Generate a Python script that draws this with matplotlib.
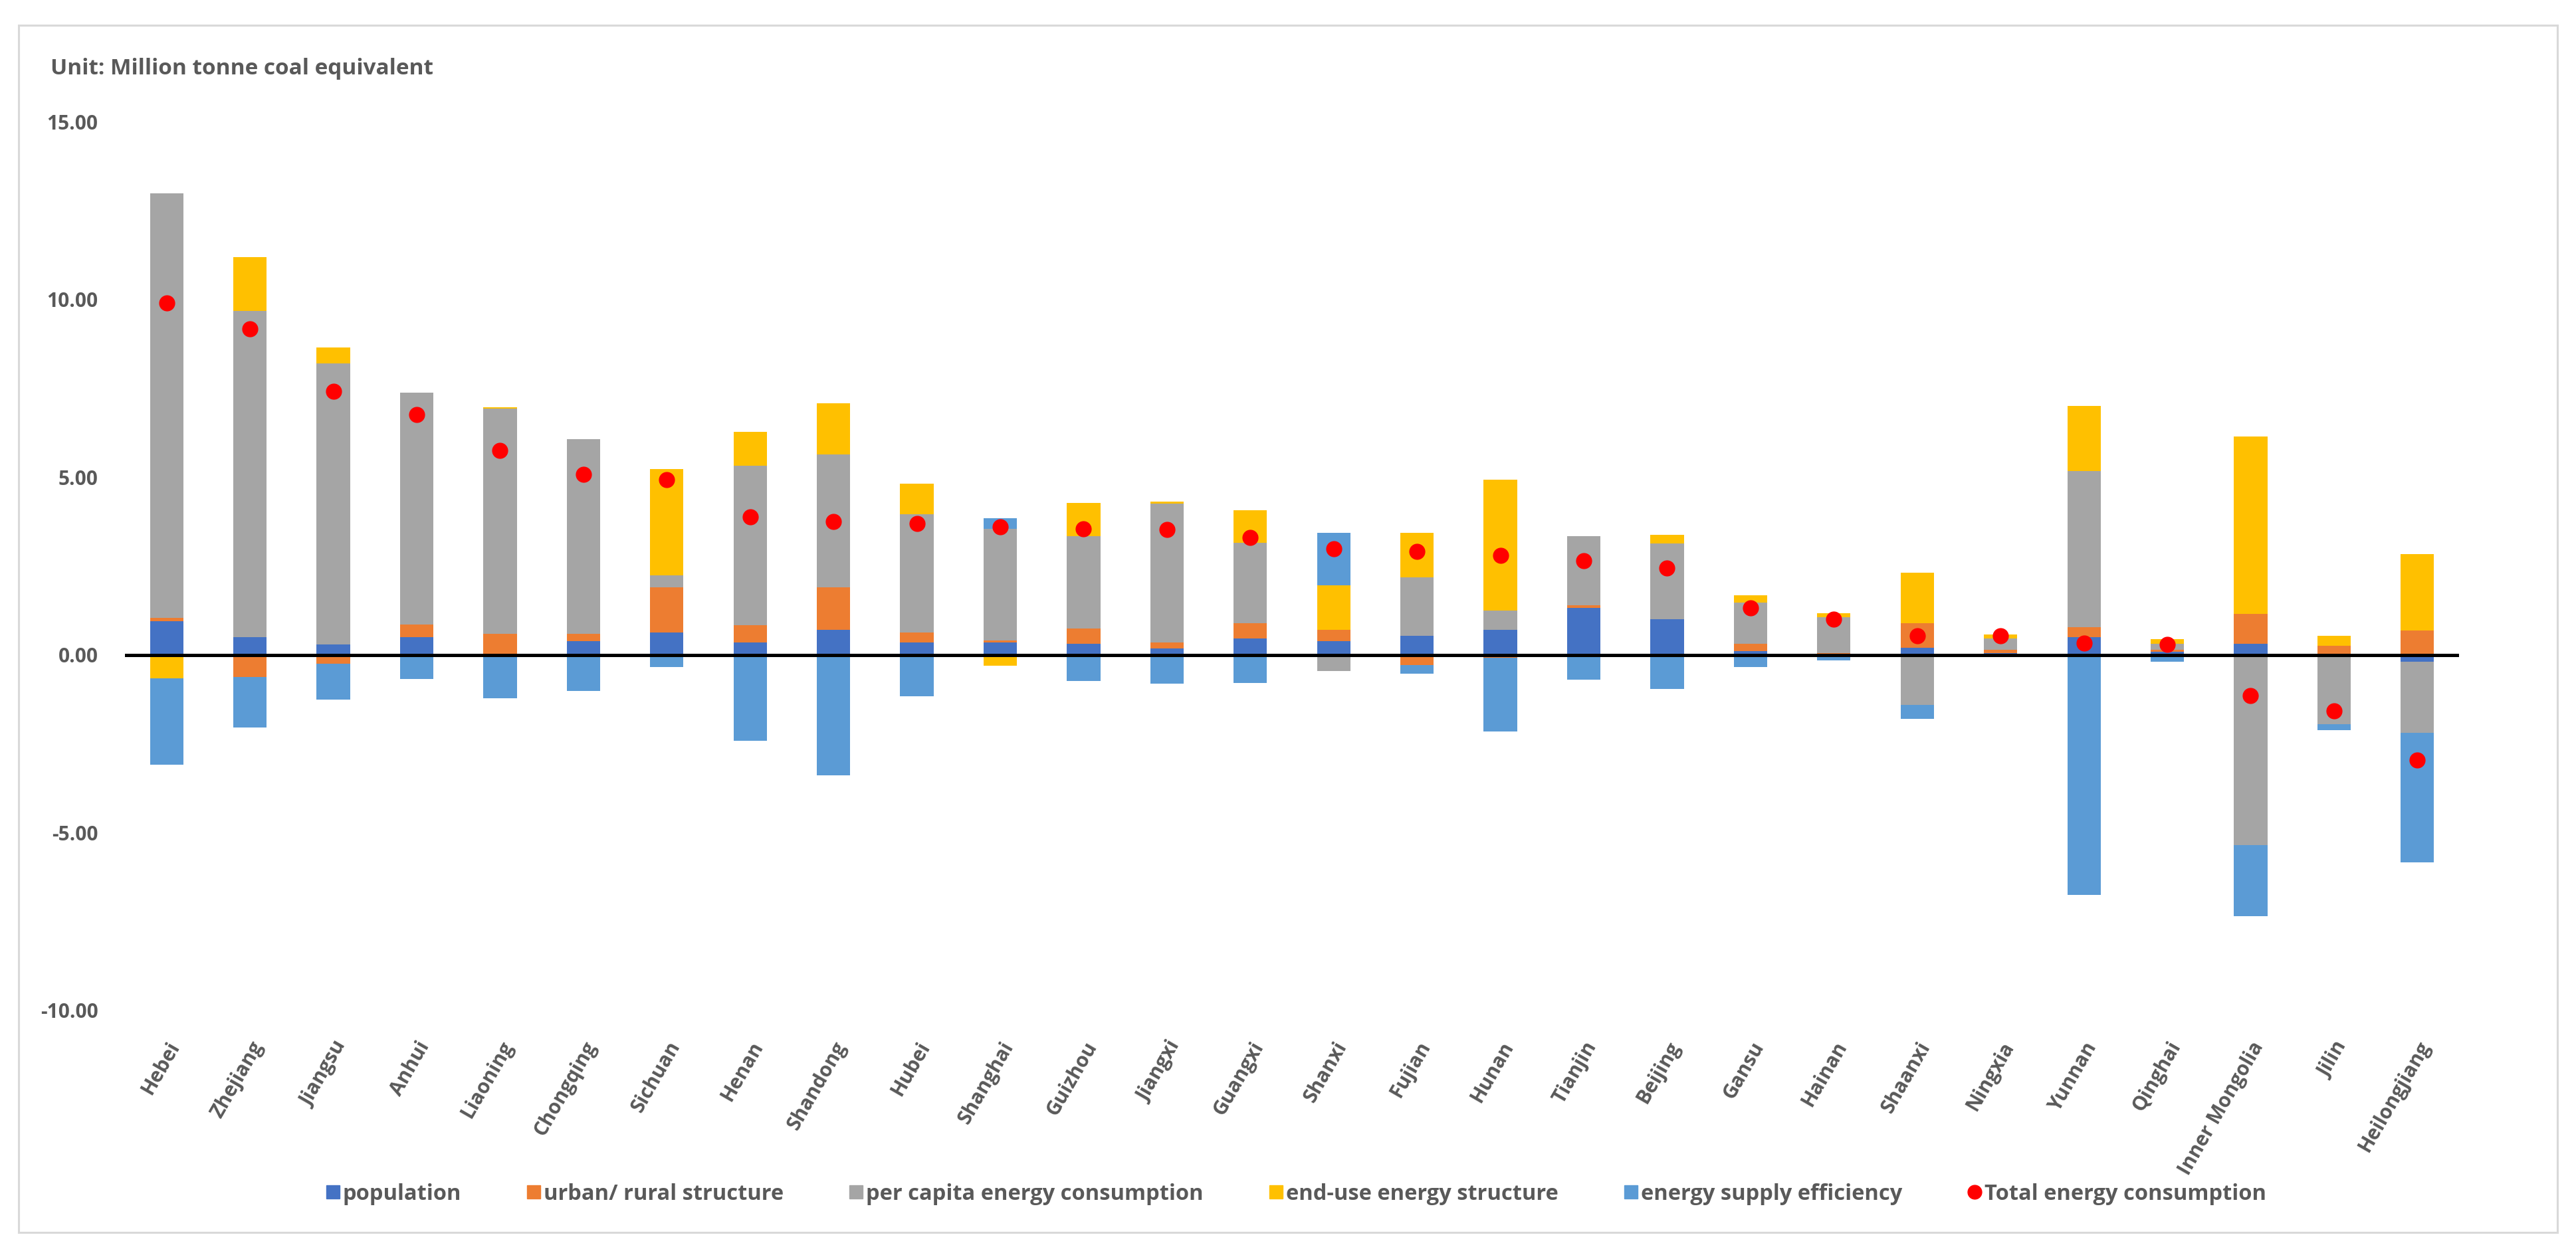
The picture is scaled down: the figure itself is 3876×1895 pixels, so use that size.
import matplotlib
matplotlib.use('Agg')
import matplotlib.pyplot as plt
import numpy as np
from matplotlib.patches import Rectangle
from matplotlib.lines import Line2D

plt.rcParams['font.family'] = ['Open Sans', 'DejaVu Sans']

# provincias (ordem do grafico)
provinces = ['Hebei', 'Zhejiang', 'Jiangsu', 'Anhui', 'Liaoning', 'Chongqing', 'Sichuan',
             'Henan', 'Shandong', 'Hubei', 'Shanghai', 'Guizhou', 'Jiangxi', 'Guangxi',
             'Shanxi', 'Fujian', 'Hunan', 'Tianjin', 'Beijing', 'Gansu', 'Hainan',
             'Shaanxi', 'Ningxia', 'Yunnan', 'Qinghai', 'Inner Mongolia', 'Jilin',
             'Heilongjiang']

population = [0.95, 0.50, 0.30, 0.50, 0.00, 0.39, 0.64, 0.35, 0.71, 0.35, 0.35, 0.31, 0.18, 0.46,
              0.39, 0.54, 0.71, 1.33, 1.01, 0.10, 0.03, 0.21, 0.06, 0.50, 0.08, 0.32, 0.00, -0.20]
urban_rural = [0.10, -0.63, -0.24, 0.36, 0.60, 0.20, 1.26, 0.49, 1.19, 0.29, 0.05, 0.44, 0.17, 0.44,
               0.32, -0.28, -0.08, 0.06, 0.00, 0.22, 0.03, 0.68, 0.09, 0.29, 0.06, 0.83, 0.26, 0.68]
per_capita = [11.93, 9.18, 7.90, 6.52, 6.33, 5.47, 0.33, 4.49, 3.74, 3.32, 3.14, 2.60, 3.90, 2.25,
              -0.45, 1.64, 0.54, 1.96, 2.12, 1.16, 1.00, -1.41, 0.31, 4.39, 0.18, -5.34, -1.94, -1.99]
end_use = [-0.66, 1.51, 0.44, 0.00, 0.04, 0.00, 3.00, 0.94, 1.44, 0.86, -0.31, 0.93, 0.07, 0.92,
           1.24, 1.26, 3.68, 0.00, 0.24, 0.20, 0.11, 1.43, 0.11, 1.83, 0.13, 5.00, 0.28, 2.15]
supply_eff = [-2.43, -1.41, -1.01, -0.67, -1.21, -1.02, -0.34, -2.41, -3.39, -1.17, 0.31, -0.74,
              -0.81, -0.78, 1.49, -0.25, -2.07, -0.70, -0.96, -0.34, -0.16, -0.38, 0.00, -6.75,
              -0.20, -2.01, -0.17, -3.64]
total = [9.90, 9.17, 7.42, 6.76, 5.76, 5.07, 4.93, 3.88, 3.75, 3.70, 3.60, 3.55, 3.52, 3.31,
         2.98, 2.92, 2.80, 2.65, 2.44, 1.33, 1.01, 0.54, 0.54, 0.33, 0.30, -1.15, -1.58, -2.96]

series_names = ['population', 'urban/ rural structure', 'per capita energy consumption',
                'end-use energy structure', 'energy supply efficiency']
series_colors = ['#4472C4', '#ED7D31', '#A5A5A5', '#FFC000', '#5B9BD5']
yticks = [-10, -5, 0, 5, 10, 15]

text_color = '#595959'

fig = plt.figure(figsize=(38.76, 18.95), dpi=100)
ax = fig.add_axes([0.0485, 0.1974, 0.9061, 0.706])

x = np.arange(len(provinces))
pos_bottom = np.zeros(len(provinces))
neg_bottom = np.zeros(len(provinces))

# empilhamento estilo Excel: positivos para cima, negativos para baixo
for vals, name, col in zip([population, urban_rural, per_capita, end_use, supply_eff],
                           series_names, series_colors):
    v = np.array(vals)
    bottom = np.where(v >= 0, pos_bottom, neg_bottom)
    ax.bar(x, v, width=0.4, bottom=bottom, color=col, label=name, zorder=2)
    pos_bottom = pos_bottom + np.where(v >= 0, v, 0)
    neg_bottom = neg_bottom + np.where(v < 0, v, 0)

ax.axhline(0, color='black', lw=3.6, zorder=3)
ax.scatter(x, total, s=270, color='#FF0000', zorder=4, label='Total energy consumption')

ax.set_xlim(-0.5, len(provinces) - 0.5)
ax.set_ylim(-10, 15)
ax.set_yticks(yticks)
ax.set_yticklabels([f'{t:.2f}' for t in yticks], fontsize=21.5, fontweight='bold', color=text_color)
ax.set_xticks(x)
ax.set_xticklabels(provinces, rotation=60, ha='right', rotation_mode='anchor',
                   fontsize=21.5, fontweight='bold', color=text_color)
ax.tick_params(axis='y', length=0, pad=29)
ax.tick_params(axis='x', length=0, pad=30)
for s in ax.spines.values():
    s.set_visible(False)

fig.text(76 / 3876, 1 - 103 / 1895, 'Unit: Million tonne coal equivalent', fontsize=24,
         fontweight='bold', color=text_color, va='center', ha='left')

# borda do grafico
fig.patches.append(Rectangle((28 / 3876, 1 - 1855 / 1895), (3848 - 28) / 3876, (1855 - 38) / 1895,
                             transform=fig.transFigure, fill=False, edgecolor='#D9D9D9', lw=2.2))

handles = [Line2D([], [], marker='s', ls='', markersize=15, color=c) for c in series_colors]
handles.append(Line2D([], [], marker='o', ls='', markersize=15, color='#FF0000'))
leg = fig.legend(handles, series_names + ['Total energy consumption'], loc='center',
                 bbox_to_anchor=(0.503, 1 - 1797 / 1895), ncol=6, frameon=False,
                 prop={'size': 23.5, 'weight': 'bold'}, handletextpad=0.1, columnspacing=3.0,
                 handlelength=0.7)
for t in leg.get_texts():
    t.set_color(text_color)

plt.savefig('out.png', dpi=100)
